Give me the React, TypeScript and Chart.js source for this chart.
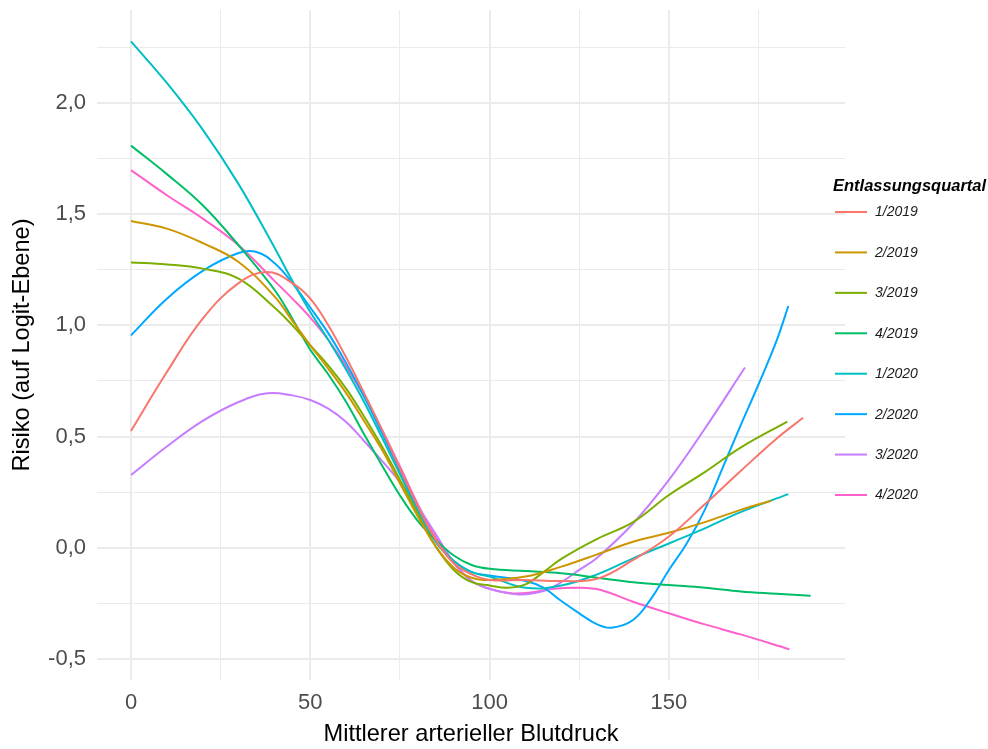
import React, { useEffect, useRef } from 'react';
import { Chart, registerables } from 'chart.js';

Chart.register(...registerables);

// ---------- data ----------
const SERIES_LABELS = ['1/2019', '2/2019', '3/2019', '4/2019', '1/2020', '2/2020', '3/2020', '4/2020'];
const SERIES_COLORS = ['#F8766D', '#CD9600', '#7CAE00', '#00BE67', '#00BFC4', '#00A9FF', '#C77CFF', '#FF61CC'];

const X_Q1_2019 = [0, 10, 20, 30, 38, 45, 50, 55, 60, 65, 70, 75, 80, 85, 90, 95, 100, 110, 120, 130, 140, 150, 160, 170, 180, 187.4];
const Y_Q1_2019 = [0.525, 0.79, 1.03, 1.19, 1.24, 1.19, 1.12, 1.0, 0.855, 0.695, 0.53, 0.355, 0.185, 0.035, -0.07, -0.12, -0.145, -0.145, -0.15, -0.14, -0.055, 0.05, 0.195, 0.345, 0.49, 0.584];

const X_Q2_2019 = [0, 10, 20, 30, 40, 45, 50, 55, 60, 65, 70, 75, 80, 85, 90, 95, 100, 110, 120, 130, 140, 150, 160, 170, 178.5];
const Y_Q2_2019 = [1.469, 1.435, 1.37, 1.285, 1.13, 1.02, 0.91, 0.805, 0.695, 0.57, 0.44, 0.29, 0.14, 0.005, -0.09, -0.135, -0.145, -0.13, -0.085, -0.03, 0.027, 0.067, 0.115, 0.17, 0.211];

const X_Q3_2019 = [0, 10, 20, 30, 40, 45, 50, 55, 60, 65, 70, 75, 80, 85, 90, 95, 100, 105, 110, 115, 120, 130, 140, 150, 160, 170, 183];
const Y_Q3_2019 = [1.283, 1.274, 1.255, 1.21, 1.08, 1.0, 0.91, 0.82, 0.715, 0.59, 0.455, 0.305, 0.15, 0.005, -0.1, -0.155, -0.17, -0.18, -0.165, -0.11, -0.05, 0.04, 0.115, 0.237, 0.34, 0.45, 0.567];

const X_Q4_2019 = [0, 10, 20, 30, 40, 45, 50, 55, 60, 65, 70, 75, 80, 85, 90, 95, 100, 110, 120, 130, 140, 150, 160, 170, 180, 189.5];
const Y_Q4_2019 = [1.808, 1.68, 1.54, 1.36, 1.16, 1.03, 0.89, 0.78, 0.655, 0.51, 0.37, 0.235, 0.12, 0.035, -0.035, -0.078, -0.095, -0.105, -0.115, -0.135, -0.155, -0.168, -0.18, -0.197, -0.207, -0.216];

const X_Q1_2020 = [0, 10, 20, 30, 40, 45, 50, 55, 60, 65, 70, 75, 80, 85, 90, 95, 100, 110, 120, 130, 140, 150, 160, 170, 183.3];
const Y_Q1_2020 = [2.277, 2.09, 1.88, 1.635, 1.35, 1.2, 1.06, 0.935, 0.8, 0.655, 0.495, 0.33, 0.165, 0.025, -0.06, -0.11, -0.13, -0.18, -0.17, -0.12, -0.048, 0.019, 0.087, 0.16, 0.241];

const X_Q2_2020 = [0, 10, 20, 30, 35, 40, 45, 50, 55, 60, 65, 70, 75, 80, 85, 90, 95, 100, 110, 115, 120, 125, 130, 134, 140, 145, 150, 155, 160, 165, 170, 175, 180, 183.3];
const Y_Q2_2020 = [0.955, 1.12, 1.245, 1.325, 1.33, 1.28, 1.19, 1.08, 0.965, 0.83, 0.68, 0.515, 0.345, 0.175, 0.03, -0.06, -0.11, -0.125, -0.15, -0.18, -0.24, -0.295, -0.345, -0.36, -0.325, -0.23, -0.1, 0.02, 0.17, 0.36, 0.55, 0.735, 0.93, 1.087];

const X_Q3_2020 = [0, 10, 20, 30, 38, 45, 50, 55, 60, 65, 70, 75, 80, 85, 90, 95, 100, 108, 115, 120, 125, 130, 140, 150, 160, 171.2];
const Y_Q3_2020 = [0.327, 0.455, 0.57, 0.655, 0.694, 0.685, 0.664, 0.625, 0.565, 0.48, 0.39, 0.295, 0.185, 0.06, -0.065, -0.15, -0.185, -0.21, -0.195, -0.155, -0.1, -0.045, 0.109, 0.305, 0.535, 0.81];

const X_Q4_2020 = [0, 10, 20, 30, 40, 45, 50, 55, 60, 65, 70, 75, 80, 85, 90, 95, 100, 106, 112, 117, 125, 131, 140, 150, 160, 170, 183.6];
const Y_Q4_2020 = [1.698, 1.585, 1.48, 1.36, 1.2, 1.12, 1.035, 0.935, 0.815, 0.68, 0.53, 0.365, 0.195, 0.045, -0.07, -0.15, -0.185, -0.205, -0.2, -0.186, -0.18, -0.19, -0.243, -0.295, -0.345, -0.39, -0.457];

const SERIES_X = [X_Q1_2019, X_Q2_2019, X_Q3_2019, X_Q4_2019, X_Q1_2020, X_Q2_2020, X_Q3_2020, X_Q4_2020];
const SERIES_Y = [Y_Q1_2019, Y_Q2_2019, Y_Q3_2019, Y_Q4_2019, Y_Q1_2020, Y_Q2_2020, Y_Q3_2020, Y_Q4_2020];

const X_TICKS = [0, 25, 50, 75, 100, 125, 150, 175];
const X_LABELED = [0, 50, 100, 150];
const Y_TICKS = [-0.5, -0.25, 0, 0.25, 0.5, 0.75, 1.0, 1.25, 1.5, 1.75, 2.0, 2.25];
const Y_LABELED = [-0.5, 0, 0.5, 1.0, 1.5, 2.0];

const X_MIN = -9.48;
const X_MAX = 199.1;
const Y_MIN = -0.595;
const Y_MAX = 2.418;

const X_TITLE = 'Mittlerer arterieller Blutdruck';
const Y_TITLE = 'Risiko (auf Logit-Ebene)';
const LEGEND_TITLE = 'Entlassungsquartal';

const FONT = '"Liberation Sans", Arial, sans-serif';

const legendPlugin = {
  id: 'ggLegend',
  afterDraw(chart: any) {
    const { ctx, chartArea } = chart;
    const left = chartArea.right - 12;
    ctx.save();
    ctx.textAlign = 'left';
    ctx.fillStyle = '#000000';
    ctx.font = `italic bold 16.5px ${FONT}`;
    ctx.textBaseline = 'alphabetic';
    ctx.fillText(LEGEND_TITLE, left, 190.5);
    chart.data.datasets.forEach((ds: any, i: number) => {
      const y = 212 + i * 40.43;
      ctx.strokeStyle = ds.borderColor;
      ctx.lineWidth = 2;
      ctx.beginPath();
      ctx.moveTo(left + 2, y);
      ctx.lineTo(left + 34, y);
      ctx.stroke();
      ctx.fillStyle = '#1A1A1A';
      ctx.font = `italic 14px ${FONT}`;
      ctx.textBaseline = 'middle';
      ctx.fillText(ds.label, left + 42, y + 0.5);
    });
    ctx.restore();
  },
};

export default function App() {
  const canvasRef = useRef<HTMLCanvasElement | null>(null);

  useEffect(() => {
    if (!canvasRef.current) return;
    const datasets = SERIES_LABELS.map((label, i) => ({
      label,
      data: SERIES_X[i].map((x, j) => ({ x, y: SERIES_Y[i][j] })),
      borderColor: SERIES_COLORS[i],
      backgroundColor: SERIES_COLORS[i],
      borderWidth: 2,
      pointRadius: 0,
      pointHoverRadius: 0,
      fill: false,
      tension: 0.4,
      showLine: true,
    }));

    const chart = new Chart(canvasRef.current, {
      type: 'line',
      data: { datasets },
      options: {
        animation: false,
        responsive: false,
        maintainAspectRatio: false,
        events: [],
        layout: { padding: { left: 0, right: 143, top: 10, bottom: 0 } },
        plugins: {
          legend: { display: false },
          tooltip: { enabled: false },
        },
        scales: {
          x: {
            type: 'linear',
            min: X_MIN,
            max: X_MAX,
            afterBuildTicks: (scale: any) => {
              scale.ticks = X_TICKS.map((v) => ({ value: v }));
            },
            afterFit: (scale: any) => {
              scale.height = 69;
              scale.paddingLeft = 0;
              scale.paddingRight = 0;
            },
            border: { display: false },
            grid: {
              color: '#EBEBEB',
              lineWidth: (c: any) => (X_LABELED.includes(c.tick?.value) ? 2 : 1),
              drawTicks: false,
            },
            ticks: {
              autoSkip: false,
              maxRotation: 0,
              padding: 10,
              color: '#4D4D4D',
              font: { family: FONT, size: 22 },
              callback: (v: any) => (X_LABELED.includes(v) ? String(v) : ''),
            },
            title: {
              display: true,
              text: X_TITLE,
              color: '#000000',
              font: { family: FONT, size: 23.6 },
              padding: { top: 0, bottom: 0 },
            },
          },
          y: {
            type: 'linear',
            min: Y_MIN,
            max: Y_MAX,
            afterBuildTicks: (scale: any) => {
              scale.ticks = Y_TICKS.map((v) => ({ value: v }));
            },
            afterFit: (scale: any) => {
              scale.width = 97;
              scale.paddingTop = 0;
              scale.paddingBottom = 0;
            },
            border: { display: false },
            grid: {
              color: '#EBEBEB',
              lineWidth: (c: any) => (Y_LABELED.includes(c.tick?.value) ? 2 : 1),
              drawTicks: false,
            },
            ticks: {
              autoSkip: false,
              padding: 11,
              color: '#4D4D4D',
              font: { family: FONT, size: 22 },
              callback: (v: any) => (Y_LABELED.includes(v) ? Number(v).toFixed(1).replace('.', ',') : ''),
            },
            title: {
              display: true,
              text: Y_TITLE,
              color: '#000000',
              font: { family: FONT, size: 23.6 },
              padding: { top: 8, bottom: 0 },
            },
          },
        },
      },
      plugins: [legendPlugin],
    });

    return () => chart.destroy();
  }, []);

  return (
    <div style={{ position: 'absolute', left: 0, top: 0, width: 988, height: 749, background: '#FFFFFF' }}>
      <canvas ref={canvasRef} width={988} height={749} style={{ width: 988, height: 749, display: 'block' }} />
    </div>
  );
}
